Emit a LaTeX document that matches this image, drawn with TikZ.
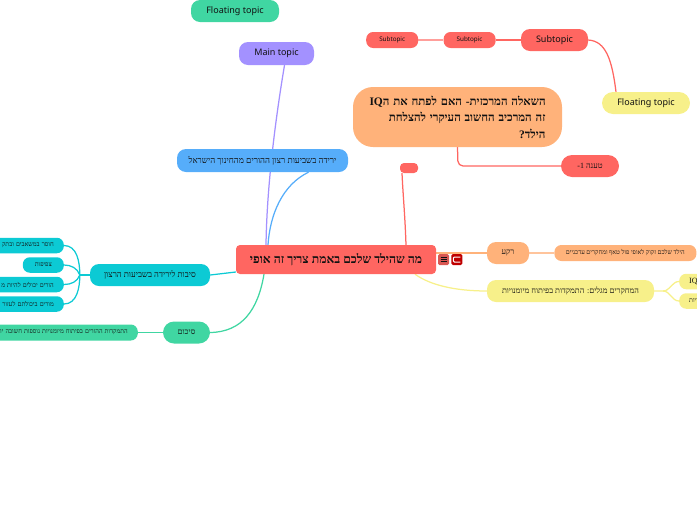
\documentclass[tikz,border=0pt]{standalone}
\usepackage{xcolor}
\usepackage{fontspec}
\usetikzlibrary{positioning,backgrounds}
\setmainfont{Noto Sans}
\newfontfamily\hebfont[Script=Hebrew]{Liberation Serif}
\newfontfamily\hebboldfont[Script=Hebrew,UprightFont={* Bold}]{Liberation Serif}
\TeXXeTstate=1
\newcommand{\heb}[1]{\leavevmode\lower0.8pt\hbox{\hebfont\beginR #1\endR}}
\newcommand{\hebbold}[1]{\leavevmode\lower0.8pt\hbox{\hebboldfont\beginR #1\endR}}
\newcommand{\latin}[1]{\leavevmode\lower1.2pt\hbox{#1}}
\definecolor{redtopic}{HTML}{FF6661}
\definecolor{redpale}{HTML}{FF9F9B}
\definecolor{orangetopic}{HTML}{FFB27A}
\definecolor{orangepale}{HTML}{FFC49C}
\definecolor{yellowtopic}{HTML}{F7F08A}
\definecolor{greentopic}{HTML}{40D6A2}
\definecolor{tealtopic}{HTML}{0CCAD4}
\definecolor{bluetopic}{HTML}{56ADFA}
\definecolor{purpletopic}{HTML}{A391FF}
\definecolor{inktopic}{HTML}{111111}
\tikzset{
    topic/.style={rounded corners=9pt, text=inktopic, inner sep=0pt, font=\fontsize{8}{10}\selectfont},
    small/.style={topic, rounded corners=7pt, font=\fontsize{6.3}{8}\selectfont},
    cuttopic/.style={small, anchor=east, align=right, inner xsep=10pt, minimum height=15.5pt, fill=tealtopic},
    edgetopic/.style={small, fill=yellowtopic, anchor=west, align=left, minimum height=15.5pt, text width=30pt, inner xsep=10pt},
    link/.style={line width=1.25pt},
}

\begin{document}
\begin{tikzpicture}[x=1pt,y=-1pt]
    \useasboundingbox (0,0) rectangle (697,520);

    \node[topic, fill=redtopic, rounded corners=4pt, minimum width=200pt, minimum height=29pt,
      font=\fontsize{12.2}{14}\selectfont] (central) at (336,259.5) {\hebbold{מה שהילד שלכם באמת צריך זה אופי}};
    \node[topic, fill=greentopic, minimum width=88pt, minimum height=22pt, font=\fontsize{9}{11}\selectfont] (floatgreen) at (235,11) {\latin{Floating topic}};
    \node[topic, fill=purpletopic, minimum width=75pt, minimum height=23pt, font=\fontsize{9}{11}\selectfont] (main) at (276.5,53.5) {\latin{Main topic}};
    \node[topic, fill=bluetopic, minimum width=171pt, minimum height=23pt, font=\fontsize{8.6}{10}\selectfont] (bluetopic) at (262.5,160.5) {\heb{ירידה בשביעות רצון ההורים מהחינוך הישראל}};

    \node[topic, fill=orangetopic, rounded corners=20pt, minimum width=209pt, minimum height=60pt,
      text width=176pt, align=right, font=\fontsize{11.5}{16.5}\selectfont] (question) at (457.5,117) {%
      \hebbold{השאלה המרכזית- האם לפתח את ה\beginL IQ\endL}\\
      \hebbold{זה המרכיב החשוב העיקרי להצלחת}\\
      \hebbold{הילד?}};
    \node[topic, fill=redtopic, minimum width=58pt, minimum height=22pt, rounded corners=11pt] (claim) at (590,166) {\heb{טענה 1-}};
    \node[topic, fill=redtopic, rounded corners=4pt, minimum width=18pt, minimum height=10pt] (emptyred) at (409,168) {};

    \node[topic, fill=redtopic, minimum width=67pt, minimum height=22pt, font=\fontsize{9}{11}\selectfont] (subtopic) at (554.5,40) {\latin{Subtopic}};
    \node[small, fill=redtopic, minimum width=52pt, minimum height=16pt, left=25pt of subtopic] (subtopicb) {\latin{Subtopic}};
    \node[small, fill=redtopic, minimum width=52pt, minimum height=16pt, left=25pt of subtopicb] (subtopicc) {\latin{Subtopic}};
    \node[topic, fill=yellowtopic, minimum width=88pt, minimum height=22pt, rounded corners=11pt, font=\fontsize{9}{11}\selectfont] (floatyellow) at (646,103) {\latin{Floating topic}};

    \node[topic, fill=orangetopic, minimum width=42pt, minimum height=22pt] (background) at (508,253) {\heb{רקע}};
    \node[small, fill=orangetopic, minimum width=142pt, minimum height=16pt, right=25pt of background] (backgroundb) {\heb{הילד שלכם זקוק לאופי פול טאף ומחקרים עדכניים}};
    \node[topic, fill=yellowtopic, minimum width=167pt, minimum height=22pt] (research) at (570.5,291) {\heb{המחקרים מגלים: התמקדות בפיתוח מיומנויות}};
    \node[edgetopic] (researchb) at (679,281.5) {\hebfont\fontsize{8}{9}\selectfont IQ};
    \node[edgetopic] (researchc) at (679,301) {\heb{מיומנויות}};

    \node[topic, fill=tealtopic, minimum width=120pt, minimum height=22pt, font=\fontsize{8.4}{10}\selectfont] (reasons) at (150,275) {\heb{סיבות לירידה בשביעות הרצון}};
    \node[cuttopic, text width=66pt] (reasona) at (64,245.5) {\heb{חוסר במשאבים ובתק}};
    \node[cuttopic, minimum width=41pt] (reasonb) at (64,265) {\heb{צפיפות}};
    \node[cuttopic, text width=66pt] (reasonc) at (64,284.5) {\heb{הורים יכולים להיות מ}};
    \node[cuttopic, text width=66pt] (reasond) at (64,304) {\heb{מורים ביכולתם לעזור ל}};
    \coordinate[left=10pt of reasons] (reasonfork);

    \node[topic, fill=greentopic, minimum width=47pt, minimum height=22pt, rounded corners=11pt] (summary) at (186.5,332.5) {\heb{סיכום}};
    \node[small, fill=greentopic, anchor=east, inner xsep=10pt, text width=150pt, align=right, minimum height=16pt] (summaryb) at (138,332.5) {\heb{התמקדות ההורים בפיתוח מיומנויות נוספות חשובה יו}};

    \node[fill=redtopic!85!black, rounded corners=1.5pt, minimum size=11pt, inner sep=0pt] (iconlist) at (443.5,259.5) {};
    \node[fill=red!75!black, rounded corners=1.5pt, minimum size=11pt, inner sep=0pt, right=2pt of iconlist] (iconfold) {};
    \draw[inktopic, line width=0.7pt] ([xshift=-3pt,yshift=2pt]iconlist.center) -- ([xshift=3pt,yshift=2pt]iconlist.center)
      ([xshift=-3pt]iconlist.center) -- ([xshift=3pt]iconlist.center)
      ([xshift=-3pt,yshift=-2pt]iconlist.center) -- ([xshift=3pt,yshift=-2pt]iconlist.center);
    \draw[white, line width=1pt, rounded corners=1pt] ([xshift=3.5pt,yshift=2.5pt]iconfold.center) -- ([xshift=-3.5pt,yshift=2.5pt]iconfold.center)
      -- ([xshift=-3.5pt,yshift=-2.5pt]iconfold.center) -- ([xshift=3.5pt,yshift=-2.5pt]iconfold.center);

    \begin{scope}[on background layer]
      \draw[link, purpletopic] ([xshift=8pt]main.south) .. controls (277,110) and (267,180) .. ([xshift=-70pt]central.north);
      \draw[link, bluetopic] ([xshift=46pt]bluetopic.south) .. controls (282,185) and (270,215) .. ([xshift=-68pt]central.north);
      \draw[link, redtopic] ([xshift=70pt]central.north) .. controls (405,215) and (403,195) .. ([xshift=-7pt]emptyred.south);
      \draw[link, redtopic, rounded corners=5pt] (question.south) -- (458,166) -- (claim.west);
      \draw[link, redtopic] (subtopic.east) .. controls (606,41) and (612,60) .. ([xshift=-30pt]floatyellow.north);
      \draw[link, redtopic] (subtopic.west) -- (subtopicb.east);
      \draw[link, redpale] (subtopicb.west) -- (subtopicc.east);
      \draw[link, orangetopic] ([yshift=6.5pt]central.east) -- (background.west);
      \draw[link, orangepale] (background.east) -- (backgroundb.west);
      \draw[link, yellowtopic] ([xshift=79pt]central.south) .. controls (430,285) and (455,291) .. (research.west);
      \draw[link, yellowtopic] (research.east) -- (663,291) to[out=0,in=180] (researchb.west);
      \draw[link, yellowtopic] (663,291) to[out=0,in=180] (researchc.west);
      \draw[link, tealtopic] ([yshift=-12.5pt]central.west) -- (reasons.east);
      \draw[link, tealtopic, line width=1.6pt] (reasons.west) -- (reasonfork);
      \foreach \reason/\bend in {reasona/90,reasonb/110,reasonc/-110,reasond/-90}
        \draw[link, tealtopic] (reasonfork) to[out=\bend,in=0] (\reason.east);
      \draw[link, greentopic] ([xshift=-72pt]central.south) .. controls (258,310) and (242,332) .. (summary.east);
      \draw[link, greentopic] (summary.west) -- (summaryb.east);
    \end{scope}
\end{tikzpicture}
\end{document}
